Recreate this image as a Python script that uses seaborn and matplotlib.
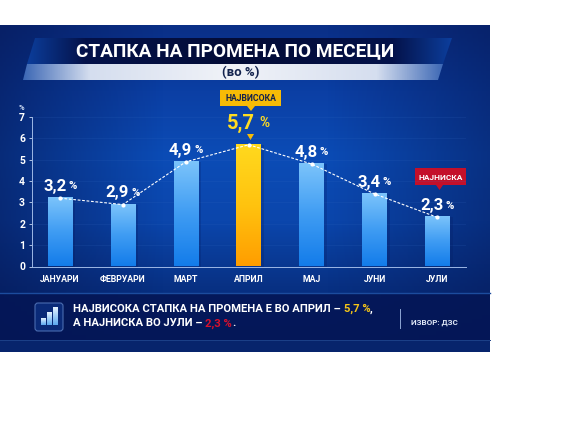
# Monthly rate of change infographic

import numpy as np
import pandas as pd
import seaborn as sns
import matplotlib
matplotlib.use('Agg')
import matplotlib.pyplot as plt
from matplotlib.colors import LinearSegmentedColormap
from matplotlib.patches import Polygon, FancyBboxPatch, Rectangle

months = ['ЈАНУАРИ', 'ФЕВРУАРИ', 'МАРТ', 'АПРИЛ', 'МАЈ', 'ЈУНИ', 'ЈУЛИ']
rates = [3.2, 2.9, 4.9, 5.7, 4.8, 3.4, 2.3]
rate_labels = ['3,2', '2,9', '4,9', '5,7', '4,8', '3,4', '2,3']
y_ticks = [0, 1, 2, 3, 4, 5, 6, 7]

W, H = 568, 426
plt.rcParams['font.family'] = ['Roboto', 'DejaVu Sans']
plt.rcParams['font.weight'] = 'bold'

fig = plt.figure(figsize=(W / 100, H / 100), dpi=100, facecolor='white')

# pixel coordinate canvas for the panel
bg = fig.add_axes([0, 0, 1, 1])
bg.set_xlim(0, W)
bg.set_ylim(H, 0)
bg.axis('off')

def gradient(ax, extent, colors, horizontal=False, clip=None, zorder=1):
    cmap = LinearSegmentedColormap.from_list('g', colors)
    grad = np.linspace(0, 1, 256)
    grad = grad.reshape(1, -1) if horizontal else grad.reshape(-1, 1)
    im = ax.imshow(grad, extent=extent, cmap=cmap, aspect='auto', zorder=zorder, origin='upper')
    if clip is not None:
        im.set_clip_path(clip)
    return im

# panel background
gradient(bg, (0, 490, 352, 25), ['#0a2f86', '#0b3fa4', '#0c4cb6', '#0b46ac', '#083184', '#06216a'])
# darker sides
cmap_side = LinearSegmentedColormap.from_list(
    's', [(0.02, 0.09, 0.32, 0.6), (0.02, 0.09, 0.32, 0.0), (0.02, 0.09, 0.32, 0.0), (0.02, 0.09, 0.32, 0.5)])
bg.imshow(np.linspace(0, 1, 256).reshape(1, -1), extent=(0, 490, 352, 25), cmap=cmap_side, aspect='auto', zorder=2)

# footer band
bg.add_patch(Rectangle((0, 293), 490, 47, color='#041656', alpha=0.9, zorder=3, lw=0))
bg.add_patch(Rectangle((0, 340), 490, 12, color='#07246c', zorder=3, lw=0))
bg.plot([0, 490], [293, 293], color='#1c4c9e', lw=1, zorder=4)
bg.plot([0, 490], [339.5, 339.5], color='#1c4088', lw=0.7, zorder=4)

# title banner
top = Polygon([(35, 38), (452, 38), (443, 64), (27, 64)], transform=bg.transData, closed=True)
gradient(bg, (24, 454, 64, 38),
         [(0, '#0c3f9e'), (0.14, '#04124a'), (0.5, '#030c36'), (0.86, '#04124a'), (1, '#0c3f9e')],
         horizontal=True, clip=top, zorder=4)
low = Polygon([(27, 64), (443, 64), (438, 80), (23, 80)], transform=bg.transData, closed=True)
gradient(bg, (22, 445, 80, 64),
         [(0, '#3a66b4'), (0.16, '#d5deef'), (0.5, '#f1f3f8'), (0.84, '#d5deef'), (1, '#3a66b4')],
         horizontal=True, clip=low, zorder=4)
bg.text(235, 51.5, 'СТАПКА НА ПРОМЕНА ПО МЕСЕЦИ', color='white', fontsize=13.7, ha='center', va='center', zorder=5)
bg.text(241, 72.5, '(во %)', color='#14244f', fontsize=9.5, ha='center', va='center', zorder=5)

# chart axes, x from category positions, y from the value scale
x0, spacing = 60, 62.9
left, right, base, top_y = 32, 466, 266.5, 117
ax = fig.add_axes([left / W, 1 - base / H, (right - left) / W, (base - top_y) / H], zorder=2)
ax.patch.set_alpha(0)

df = pd.DataFrame({'month': months, 'rate': rates})
sns.barplot(data=df, x='month', y='rate', ax=ax, width=0.39, color='#2f8fee', saturation=1, zorder=3)
ax.set_xlim((left - x0) / spacing, (right - x0) / spacing)
ax.set_ylim(0, 7)

# gradient fill inside each seaborn bar
for i, bar in enumerate(ax.patches):
    bx, bw, bh = bar.get_x(), bar.get_width(), bar.get_height()
    if months[i] == 'АПРИЛ':
        cols = ['#ffd91e', '#ffc30f', '#ff9d00']
    else:
        cols = ['#7cc4fb', '#3f9cf3', '#137cea']
    bar.set_alpha(0)
    # soft shadow on the right
    ax.add_patch(Rectangle((bx + bw, 0), 0.05, bh, color='#041a5e', alpha=0.22, lw=0, zorder=2))
    gradient(ax, (bx, bx + bw, 0, bh), cols, zorder=3)
ax.set_xlim((left - x0) / spacing, (right - x0) / spacing)
ax.set_ylim(0, 7)
ax.set_aspect('auto')

# trend line
sns.lineplot(data=df, x='month', y='rate', ax=ax, color='white', lw=0.8, linestyle=(0, (2.5, 1.5)),
             marker='o', markersize=3, markeredgewidth=0, zorder=5, sort=False)

for v in y_ticks[1:]:
    ax.axhline(v, color='#3a6ec4', lw=0.4, alpha=0.25, zorder=1)

ax.set_xlabel('')
ax.set_ylabel('')
ax.set_yticks(y_ticks)
ax.set_yticklabels([str(v) for v in y_ticks])
ax.tick_params(axis='y', colors='#c9d8f2', length=2, width=0.6, labelsize=7.5, pad=3)
ax.tick_params(axis='x', colors='white', length=0, labelsize=6.3, pad=6)
for lab in ax.get_yticklabels():
    lab.set_color('white')
sns.despine(ax=ax, top=True, right=True)
for side in ['left', 'bottom']:
    ax.spines[side].set_color('#9db8e6')
    ax.spines[side].set_linewidth(0.7)
ax.text(-0.018, 7.45, '%', transform=ax.get_yaxis_transform(), color='#c9d8f2', fontsize=5.5, ha='right', va='center')

# value labels
for i, (v, lab) in enumerate(zip(rates, rate_labels)):
    peak = months[i] == 'АПРИЛ'
    colour = '#ffdc22' if peak else 'white'
    size = 14.5 if peak else 12
    gap = 1.0 if peak else 0.55
    ax.annotate(lab, (i, v + gap), xytext=(4.5, 0), textcoords='offset points', color=colour,
                fontsize=size, ha='right', va='center', zorder=6)
    ax.annotate('%', (i, v + gap), xytext=(7.5 if peak else 6, 0), textcoords='offset points',
                color=colour, fontsize=size * 0.68, ha='left', va='center', zorder=6)

# callouts
bg.add_patch(Rectangle((220, 90), 61, 16, color='#f7bb06', zorder=6, lw=0))
bg.add_patch(Polygon([(247, 106), (255, 106), (251, 111)], color='#f7bb06', zorder=6, lw=0))
bg.text(250.5, 98.2, 'НАЈВИСОКА', color='#13204c', fontsize=6.2, ha='center', va='center', zorder=7)
bg.add_patch(Polygon([(247, 134), (254, 134), (250.5, 140)], color='#f7bb06', zorder=6, lw=0))
bg.add_patch(Rectangle((415, 168), 51, 17, color='#c4102a', zorder=6, lw=0))
bg.add_patch(Polygon([(436, 185), (443, 185), (439.5, 190)], color='#c4102a', zorder=6, lw=0))
bg.text(441, 177.5, 'НАЈНИСКА', color='white', fontsize=6, ha='center', va='center', zorder=7)

# footer icon
bg.add_patch(FancyBboxPatch((35, 303), 28, 28, boxstyle='round,pad=0,rounding_size=3', fc='#0a2a78',
                            ec='#4a6cb0', lw=0.8, zorder=5))
for bx, by, bw in [(41, 318, 4.5), (47, 312, 4.5), (53, 307, 5)]:
    gradient(bg, (bx, bx + bw, 325, by), ['#e6f3ff', '#5aa8f0'], zorder=6)
bg.set_xlim(0, W)
bg.set_ylim(H, 0)

# footer text, segments placed one after another
def text_row(x, y, parts, size):
    for s, c in parts:
        t = bg.text(x, y, s, color=c, fontsize=size, ha='left', va='center', zorder=6)
        fig.canvas.draw()
        x += t.get_window_extent().width

text_row(73, 309, [('НАЈВИСОКА СТАПКА НА ПРОМЕНА Е ВО АПРИЛ – ', 'white'), ('5,7 %', '#f5c518'), (',', 'white')], 8.1)
text_row(73, 323.5, [('А НАЈНИСКА ВО ЈУЛИ – ', 'white'), ('2,3 %', '#d8102c'), ('.', 'white')], 8.1)
bg.plot([399.5, 399.5], [309, 328], color='#8ea6d4', lw=0.7, zorder=6)
bg.text(411, 322.5, 'ИЗВОР: ДЗС', color='#dfe7f6', fontsize=5.8, ha='left', va='center', zorder=6)

fig.savefig('out.png', dpi=100, facecolor='white')
